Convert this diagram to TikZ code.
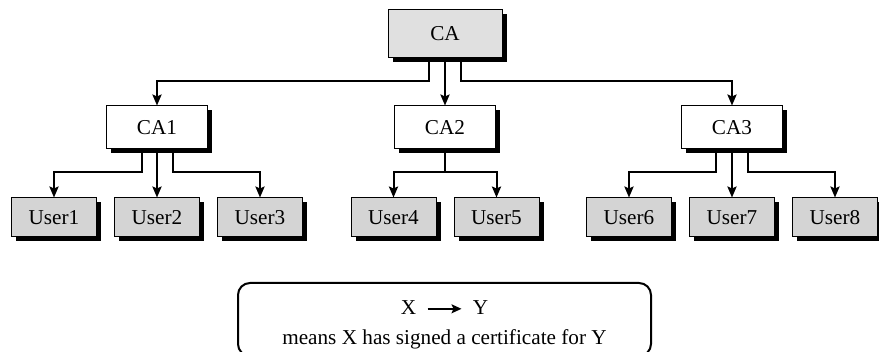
\documentclass[tikz,border=0pt]{standalone}
\usepackage{fontspec}
\setmainfont{Liberation Serif}
\usepackage{tikz}
\usetikzlibrary{arrows.meta,positioning,shadows}
\definecolor{cafill}{gray}{0.88}
\definecolor{userfill}{gray}{0.83}
\newcommand{\sigarrow}{\tikz[baseline=-0.6ex]\draw[line width=0.7pt,-{Stealth[length=5pt,width=4.5pt,inset=1pt]}] (0,0) -- (17pt,0);}

\begin{document}
\begin{tikzpicture}[
  x=0.5pt, y=-0.5pt,
  box/.style={draw, line width=0.5pt, align=center, font=\fontsize{10.6}{12.5}\selectfont, inner sep=2pt,
    drop shadow={shadow xshift=2.25pt, shadow yshift=-2.25pt, fill=black, opacity=1}},
  rootbox/.style={box, fill=cafill, minimum width=57pt, minimum height=24pt},
  cabox/.style={box, fill=white, minimum width=50.5pt, minimum height=21.5pt},
  userbox/.style={box, fill=userfill, minimum width=42.5pt, minimum height=19.5pt},
  arr/.style={-{Stealth[length=5.5pt,width=4.6pt,inset=1pt]}, line width=1pt},
  keybox/.style={draw, line width=1pt, rounded corners=6pt},
  keytext/.style={align=center, font=\fontsize{10.6}{12.5}\selectfont, inner sep=0pt}
]
\useasboundingbox (0,0) rectangle (879,352);
% certificate authorities
\node[rootbox] (ca) at (445,34) {CA};
\node[cabox] (ca1) at (157,127.5) {CA1};
\node[cabox] (ca2) at (445,127.5) {CA2};
\node[cabox] (ca3) at (732,127.5) {CA3};
% users
\node[userbox, below=24pt of ca1] (u2) {User2};
\node[userbox, left=8.5pt of u2] (u1) {User1};
\node[userbox, right=8.5pt of u2] (u3) {User3};
\node[userbox, below left=24pt and 4.25pt of ca2.south] (u4) {User4};
\node[userbox, below right=24pt and 4.25pt of ca2.south] (u5) {User5};
\node[userbox, below=24pt of ca3] (u7) {User7};
\node[userbox, left=8.5pt of u7] (u6) {User6};
\node[userbox, right=8.5pt of u7] (u8) {User8};
% signatures
\draw[arr] ([xshift=-8pt]ca.south) -- ++(0,23) -| (ca1);
\draw[arr] (ca) -- (ca2);
\draw[arr] ([xshift=8pt]ca.south) -- ++(0,23) -| (ca3);
\draw[arr] ([xshift=-7.75pt]ca1.south) -- ++(0,23) -| (u1);
\draw[arr] (ca1) -- (u2);
\draw[arr] ([xshift=7.75pt]ca1.south) -- ++(0,23) -| (u3);
\draw[arr] (ca2.south) -- ++(0,23) -| (u4);
\draw[arr] (ca2.south) -- ++(0,23) -| (u5);
\draw[arr] ([xshift=-8pt]ca3.south) -- ++(0,23) -| (u6);
\draw[arr] (ca3) -- (u7);
\draw[arr] ([xshift=8pt]ca3.south) -- ++(0,23) -| (u8);
% key
\draw[keybox] (238,283) rectangle (651,356);
\node[keytext] (key) at (444.5,325) {X\enspace\sigarrow\enspace Y\\[2.5pt]means X has signed a certificate for Y};
\end{tikzpicture}
\end{document}
